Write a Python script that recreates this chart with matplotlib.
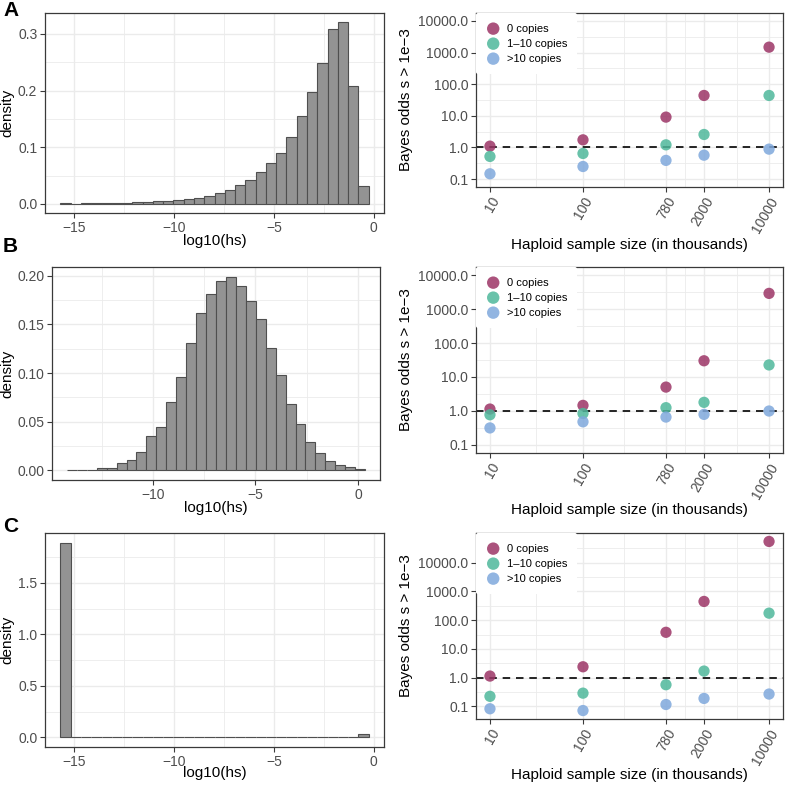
import numpy as np
import matplotlib.pyplot as plt
from matplotlib.ticker import FixedLocator, NullFormatter

plt.rcParams['font.family'] = ['Liberation Sans', 'DejaVu Sans']

# histogram densities, 30 bins per panel (left edge, bin width)
hist_a_start, hist_a_width = -15.7, 0.515
hist_a_density = [0.0015, 0.0007, 0.0008, 0.0010, 0.0012, 0.0018, 0.0020, 0.0025, 0.0030, 0.0045,
                  0.0047, 0.0065, 0.0088, 0.0110, 0.0135, 0.0190, 0.0240, 0.0330, 0.0420, 0.0560,
                  0.0720, 0.0890, 0.1180, 0.1560, 0.1970, 0.2490, 0.3090, 0.3210, 0.2090, 0.0310]

hist_b_start, hist_b_width = -14.2, 0.485
hist_b_density = [0.0005, 0.0007, 0.0007, 0.0025, 0.0020, 0.0075, 0.0103, 0.0185, 0.0350, 0.0450,
                  0.0697, 0.0954, 0.1310, 0.1620, 0.1810, 0.1950, 0.1990, 0.1890, 0.1736, 0.1550,
                  0.1260, 0.0980, 0.0680, 0.0480, 0.0290, 0.0180, 0.0100, 0.0050, 0.0030, 0.0014]

hist_c_start, hist_c_width = -15.7, 0.515
hist_c_density = [1.8900, 0.0010, 0.0008, 0.0008, 0.0006, 0.0006, 0.0005, 0.0005, 0.0005, 0.0005,
                  0.0005, 0.0005, 0.0006, 0.0006, 0.0006, 0.0007, 0.0007, 0.0008, 0.0008, 0.0009,
                  0.0010, 0.0011, 0.0012, 0.0013, 0.0015, 0.0017, 0.0019, 0.0022, 0.0030, 0.0290]

hist_a_xticks = [-15, -10, -5, 0]
hist_b_xticks = [-10, -5, 0]
hist_c_xticks = [-15, -10, -5, 0]
hist_a_yticks = [0.0, 0.1, 0.2, 0.3]
hist_b_yticks = [0.0, 0.05, 0.10, 0.15, 0.20]
hist_c_yticks = [0.0, 0.5, 1.0, 1.5]

# Bayes odds by haploid sample size (thousands)
sample_sizes = [10, 100, 780, 2000, 10000]
copy_groups = ["0 copies", "1\u201310 copies", ">10 copies"]
group_colors = ["#9c3566", "#4fb89b", "#7fa8dc"]

odds_a_zero = [1.10, 1.74, 9.1, 44, 1480]
odds_a_low = [0.52, 0.646, 1.21, 2.57, 44]
odds_a_high = [0.147, 0.25, 0.39, 0.57, 0.885]

odds_b_zero = [1.12, 1.44, 5.0, 30, 2950]
odds_b_low = [0.76, 0.83, 1.23, 1.77, 22.6]
odds_b_high = [0.31, 0.47, 0.65, 0.78, 0.98]

odds_c_zero = [1.14, 2.4, 38, 450, 55000]
odds_c_low = [0.225, 0.29, 0.57, 1.7, 176]
odds_c_high = [0.083, 0.072, 0.117, 0.19, 0.27]

odds_ticks = [0.1, 1, 10, 100, 1000, 10000]
odds_ticklabels = ["0.1", "1.0", "10.0", "100.0", "1000.0", "10000.0"]

W = H = 785
GRID = "#ebebeb"
FRAME = "#3a3a3a"
TICKTXT = "#4d4d4d"


def px_axes(fig, left, top, right, bottom):
    ax = fig.add_axes([left / W, 1 - bottom / H, (right - left) / W, (bottom - top) / H])
    ax._px = (left, top, right, bottom)
    return ax


def label_at(ax, ylab_x, xlab_y):
    # place axis titles at given figure pixel positions
    left, top, right, bottom = ax._px
    ax.yaxis.set_label_coords((ylab_x - left) / (right - left), 0.5)
    ax.xaxis.set_label_coords(0.5, (bottom - xlab_y) / (bottom - top))


def style_axes(ax):
    for sp in ax.spines.values():
        sp.set_color(FRAME)
        sp.set_linewidth(0.9)
    ax.set_axisbelow(True)
    ax.tick_params(which="major", length=3.5, width=0.8, color=FRAME,
                   labelsize=10, labelcolor=TICKTXT, pad=2)
    ax.tick_params(which="minor", length=0)
    ax.xaxis.set_minor_formatter(NullFormatter())
    ax.yaxis.set_minor_formatter(NullFormatter())
    ax.grid(True, which="major", color=GRID, linewidth=1.0)
    ax.grid(True, which="minor", color=GRID, linewidth=0.6)


def plot_hist(ax, start, width, dens, xticks, yticks, ylabels):
    dens = np.array(dens)
    lefts = start + width * np.arange(len(dens))
    ax.bar(lefts, dens, width=width, align="edge", color="#939393",
           edgecolor="#4f4f4f", linewidth=0.8)
    lo, hi = start, start + width * len(dens)
    pad = 0.05 * (hi - lo)
    ax.set_xlim(lo - pad, hi + pad)
    ymax = dens.max()
    ax.set_ylim(-0.05 * ymax, 1.05 * ymax)
    ax.set_xticks(xticks)
    ax.set_yticks(yticks)
    ax.set_yticklabels(ylabels)
    xt = np.array(xticks, dtype=float)
    ax.xaxis.set_minor_locator(FixedLocator(np.r_[xt[0] - 2.5, xt + 2.5]))
    yt = np.array(yticks, dtype=float)
    step = yt[1] - yt[0]
    ax.yaxis.set_minor_locator(FixedLocator(np.r_[yt + step / 2]))
    style_axes(ax)
    ax.set_xlabel("log10(hs)", fontsize=11, va="center")
    ax.set_ylabel("density", fontsize=11, va="center")


def plot_odds(ax, zero, low, high, ylim=None):
    for vals, lab, col in zip([zero, low, high], copy_groups, group_colors):
        ax.scatter(sample_sizes, vals, s=66, color=col, alpha=0.85,
                   edgecolors="none", label=lab, zorder=3)
    ax.axhline(1.0, color="black", linestyle=(0, (4.5, 3.5)), linewidth=1.2, zorder=2)
    ax.set_xscale("log")
    ax.set_yscale("log")
    lx = np.log10(sample_sizes)
    ax.set_xlim(10 ** (lx[0] - 0.15), 10 ** (lx[-1] + 0.15))
    if ylim is None:
        allv = np.log10(np.r_[zero, low, high])
        pad = 0.05 * (allv.max() - allv.min())
        ax.set_ylim(10 ** (allv.min() - pad), 10 ** (allv.max() + pad))
    else:
        ax.set_ylim(*ylim)
    ax.xaxis.set_major_locator(FixedLocator(sample_sizes))
    ax.xaxis.set_minor_locator(FixedLocator(10 ** ((lx[:-1] + lx[1:]) / 2)))
    ax.set_xticklabels([str(s) for s in sample_sizes], rotation=60,
                       ha="right", va="top", rotation_mode="anchor")
    ax.yaxis.set_major_locator(FixedLocator(odds_ticks))
    ax.set_yticklabels(odds_ticklabels)
    ax.yaxis.set_minor_locator(FixedLocator(10 ** (np.arange(-1, 5) + 0.5)))
    style_axes(ax)
    ax.set_xlabel("Haploid sample size (in thousands)", fontsize=11, va="center")
    ax.set_ylabel("Bayes odds s > 1e\u22123", fontsize=11, va="center")
    leg = ax.legend(loc="upper left", bbox_to_anchor=(0.0, 1.0), fontsize=8,
                    frameon=True, facecolor="white", edgecolor="none", framealpha=1,
                    handlelength=1.2, handletextpad=0.6, labelspacing=0.45,
                    borderpad=0.95, borderaxespad=0.0, scatterpoints=1,
                    markerscale=1.1)
    leg.set_zorder(5)


fig = plt.figure(figsize=(7.85, 7.85), dpi=100)

ax = px_axes(fig, 45, 13, 384, 213)
plot_hist(ax, hist_a_start, hist_a_width, hist_a_density, hist_a_xticks,
          hist_a_yticks, ["0.0", "0.1", "0.2", "0.3"])
label_at(ax, 7, 241)
ax = px_axes(fig, 476, 13, 783, 187)
plot_odds(ax, odds_a_zero, odds_a_low, odds_a_high, ylim=(10 ** -1.25, 10 ** 4.25))
label_at(ax, 406, 245)

ax = px_axes(fig, 52, 267, 380, 480)
plot_hist(ax, hist_b_start, hist_b_width, hist_b_density, hist_b_xticks,
          hist_b_yticks, ["0.00", "0.05", "0.10", "0.15", "0.20"])
label_at(ax, 7, 508)
ax = px_axes(fig, 476, 267, 783, 453)
plot_odds(ax, odds_b_zero, odds_b_low, odds_b_high, ylim=(10 ** -1.25, 10 ** 4.25))
label_at(ax, 406, 510)

ax = px_axes(fig, 45, 533, 384, 747)
plot_hist(ax, hist_c_start, hist_c_width, hist_c_density, hist_c_xticks,
          hist_c_yticks, ["0.0", "0.5", "1.0", "1.5"])
label_at(ax, 7, 773)
ax = px_axes(fig, 476, 533, 783, 719)
plot_odds(ax, odds_c_zero, odds_c_low, odds_c_high)
label_at(ax, 406, 775)

for lab, y in [("A", 11), ("B", 246), ("C", 527)]:
    fig.text(3 / W, 1 - y / H, lab, fontsize=15, fontweight="bold", va="center", ha="left")

fig.savefig("out.png", dpi=100)
